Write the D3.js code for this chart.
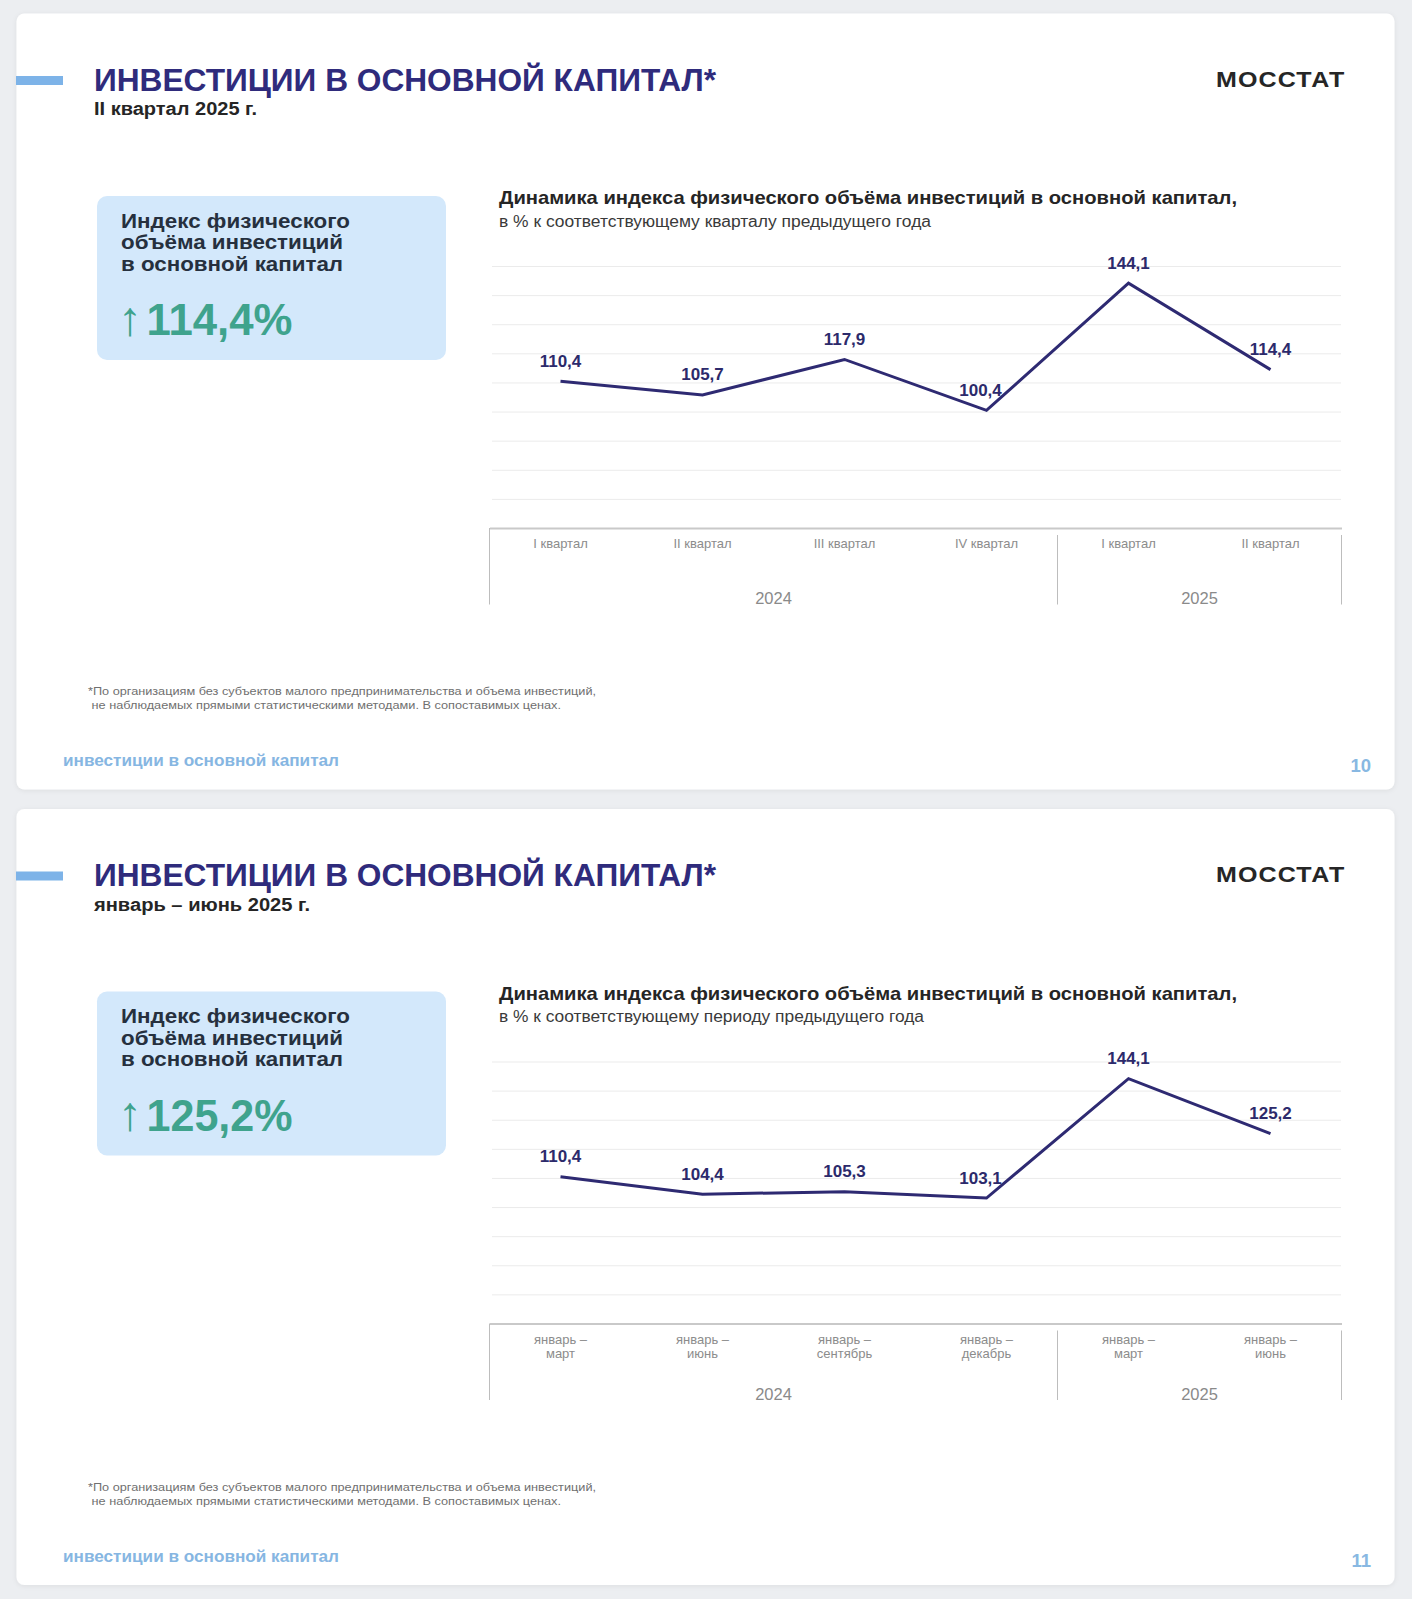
<!DOCTYPE html>
<html><head><meta charset="utf-8">
<script src="https://cdn.jsdelivr.net/npm/d3@7"></script>
<style>
html,body{margin:0;padding:0;background:#eceef1;}
svg{display:block;font-family:"Liberation Sans",Arial,Helvetica,sans-serif;}
</style>
</head><body>
<svg id="c" width="1412" height="1599"></svg>
<script>
// ---------- data ----------
const years = ["2024", "2025"];
const yearSpans = [4, 2];
const quarterLabels = [["I квартал"], ["II квартал"], ["III квартал"], ["IV квартал"], ["I квартал"], ["II квартал"]];
const quarterValues = [110.4, 105.7, 117.9, 100.4, 144.1, 114.4];
const cumulativeLabels = [["январь –", "март"], ["январь –", "июнь"], ["январь –", "сентябрь"], ["январь –", "декабрь"], ["январь –", "март"], ["январь –", "июнь"]];
const cumulativeValues = [110.4, 104.4, 105.3, 103.1, 144.1, 125.2];
const yTicks = [60, 70, 80, 90, 100, 110, 120, 130, 140, 150];

const slideTitle = "ИНВЕСТИЦИИ В ОСНОВНОЙ КАПИТАЛ*";
const slidePeriods = ["II квартал 2025 г.", "январь – июнь 2025 г."];
const chartTitle = "Динамика индекса физического объёма инвестиций в основной капитал,";
const chartSubtitles = ["в % к соответствующему кварталу предыдущего года", "в % к соответствующему периоду предыдущего года"];
const boxLines = ["Индекс физического", "объёма инвестиций", "в основной капитал"];
const footnoteLines = ["*По организациям без субъектов малого предпринимательства и объема инвестиций,", " не наблюдаемых прямыми статистическими методами. В сопоставимых ценах."];
const footerText = "инвестиции в основной капитал";
const pageNumbers = ["10", "11"];
const brand = "МОССТАТ";

// ---------- layout widths of text (px) ----------
const periodWidths = [163, 216];
const subtitleWidths = [432, 425];
const boxLineWidths = [229, 222, 222];
const footnoteWidths = [508, 473];

// ---------- drawing ----------
const svg = d3.select("#c");
const fmt = v => d3.format(".1f")(v).replace(".", ",");
const fit = (sel, w, mode) => sel.attr("textLength", w).attr("lengthAdjust", mode || "spacingAndGlyphs");

const defs = svg.append("defs");
const f = defs.append("filter").attr("id", "sh").attr("x", "-5%").attr("y", "-5%").attr("width", "110%").attr("height", "110%");
f.append("feDropShadow").attr("dx", 0).attr("dy", 1).attr("stdDeviation", 2.5)
  .attr("flood-color", "#000").attr("flood-opacity", 0.07);

svg.append("rect").attr("width", 1412).attr("height", 1599).attr("fill", "#eceef1");

const panels = [
  {labels: quarterLabels, values: quarterValues, offset: 0},
  {labels: cumulativeLabels, values: cumulativeValues, offset: 795.5}
];

const x = d3.scaleBand().domain(d3.range(6)).range([489.5, 1341.5]);
const y = d3.scaleLinear().domain([60, 150]).range([528, 266]);
const bw = x.bandwidth();

panels.forEach((p, pi) => {
  const g = svg.append("g").attr("transform", `translate(0,${p.offset})`);

  g.append("rect").attr("x", 16.5).attr("y", 13.5).attr("width", 1378).attr("height", 776)
    .attr("rx", 8).attr("fill", "#fff").attr("filter", "url(#sh)");

  // header
  g.append("rect").attr("x", 16).attr("y", 76).attr("width", 47).attr("height", 9).attr("fill", "#7db3e8");
  fit(g.append("text").attr("x", 94).attr("y", 90.5).attr("font-size", 31.5).attr("font-weight", 700)
    .attr("fill", "#2f2b7c").text(slideTitle), 622);
  fit(g.append("text").attr("x", 94).attr("y", 115).attr("font-size", 18).attr("font-weight", 700)
    .attr("fill", "#252525").text(slidePeriods[pi]), periodWidths[pi]);
  fit(g.append("text").attr("x", 1216).attr("y", 86.5).attr("font-size", 22.5)
    .attr("font-weight", 700).attr("fill", "#262626").attr("letter-spacing", 1)
    .text(brand), 129.5);

  // info box
  g.append("rect").attr("x", 97).attr("y", 196).attr("width", 349).attr("height", 164).attr("rx", 10)
    .attr("fill", "#d3e8fb");
  g.append("text").attr("font-size", 20.5).attr("font-weight", 700).attr("fill", "#26303e")
    .selectAll("tspan").data(boxLines).join("tspan")
    .attr("x", 121).attr("y", (d, i) => 227.7 + i * 21.5)
    .attr("textLength", (d, i) => boxLineWidths[i]).attr("lengthAdjust", "spacingAndGlyphs")
    .text(d => d);
  g.append("text").attr("x", 118).attr("y", 334.5).attr("fill", "#3fa38d")
    .attr("font-size", 48).attr("font-weight", 400).text("↑");
  fit(g.append("text").attr("x", 146.5).attr("y", 335).attr("fill", "#3fa38d")
    .attr("font-size", 44).attr("font-weight", 700).text(fmt(p.values[p.values.length - 1]) + "%"), 146);

  // chart titles
  fit(g.append("text").attr("x", 499).attr("y", 204).attr("font-size", 19).attr("font-weight", 700)
    .attr("fill", "#252525").text(chartTitle), 738);
  fit(g.append("text").attr("x", 499).attr("y", 226.5).attr("font-size", 16)
    .attr("fill", "#3a3a3a").text(chartSubtitles[pi]), subtitleWidths[pi]);

  // gridlines
  const grid = g.append("g").attr("transform", "translate(1341,0)")
    .call(d3.axisLeft(y).tickValues(yTicks.filter(t => t > 60)).tickSize(849).tickFormat(""));
  grid.select(".domain").remove();
  grid.selectAll("line").attr("stroke", "#ebebeb").attr("stroke-width", 1);

  // base axis
  const ax = g.append("g").attr("transform", `translate(0,${y(60)})`)
    .call(d3.axisBottom(x).tickSize(0).tickFormat(""));
  ax.select(".domain").attr("stroke", "#c9c9c9").attr("stroke-width", 2);

  // category labels
  const cat = g.append("g").attr("font-size", 13).attr("fill", "#8c8c8c").attr("text-anchor", "middle");
  p.labels.forEach((lines, i) => {
    const t = cat.append("text");
    lines.forEach((ln, li) => t.append("tspan").attr("x", x(i) + bw / 2).attr("y", 548 + li * 14).text(ln));
  });

  // year groups
  const starts = yearSpans.map((s, i) => d3.sum(yearSpans.slice(0, i)));
  const bounds = starts.map(s => x(s)).concat([x(5) + bw]);
  g.append("g").selectAll("line").data(bounds).join("line")
    .attr("x1", d => d).attr("x2", d => d).attr("y1", (d, i) => i === 0 ? y(60) : 535).attr("y2", 604.5)
    .attr("stroke", "#bdbdbd").attr("stroke-width", 1);
  g.append("g").selectAll("text").data(years).join("text")
    .attr("x", (d, i) => (bounds[i] + bounds[i + 1]) / 2).attr("y", 604)
    .attr("text-anchor", "middle").attr("font-size", 16.5).attr("fill", "#8a8a8a").text(d => d);

  // line
  const line = d3.line().x((d, i) => x(i) + bw / 2).y(d => y(d));
  g.append("path").datum(p.values).attr("d", line).attr("fill", "none")
    .attr("stroke", "#2e2a72").attr("stroke-width", 3).attr("stroke-linejoin", "miter");

  // data labels
  g.append("g").selectAll("text").data(p.values).join("text")
    .attr("x", (d, i) => {
      const nxt = p.values[i + 1], prv = p.values[i - 1];
      const steepMin = nxt !== undefined && prv !== undefined && d < prv && nxt - d > 20;
      return x(i) + bw / 2 - (steepMin ? 6 : 0);
    })
    .attr("y", d => y(d) - 14.5)
    .attr("text-anchor", "middle").attr("font-size", 17).attr("font-weight", 700)
    .attr("fill", "#2c2a6b").text(d => fmt(d));

  // footnote
  g.append("text").attr("font-size", 11.5).attr("fill", "#707070")
    .selectAll("tspan").data(footnoteLines).join("tspan")
    .attr("x", 88).attr("y", (d, i) => 695 + i * 14.3).attr("xml:space", "preserve")
    .attr("textLength", (d, i) => footnoteWidths[i]).attr("lengthAdjust", "spacingAndGlyphs")
    .text(d => d);

  // footer
  fit(g.append("text").attr("x", 63).attr("y", 766).attr("font-size", 16).attr("font-weight", 700)
    .attr("fill", "#86b6e2").text(footerText), 276);
  g.append("text").attr("x", 1371).attr("y", 771.7).attr("text-anchor", "end").attr("font-size", 18.5)
    .attr("font-weight", 700).attr("fill", "#88b8e2").text(pageNumbers[pi]);
});
</script>
</body></html>
